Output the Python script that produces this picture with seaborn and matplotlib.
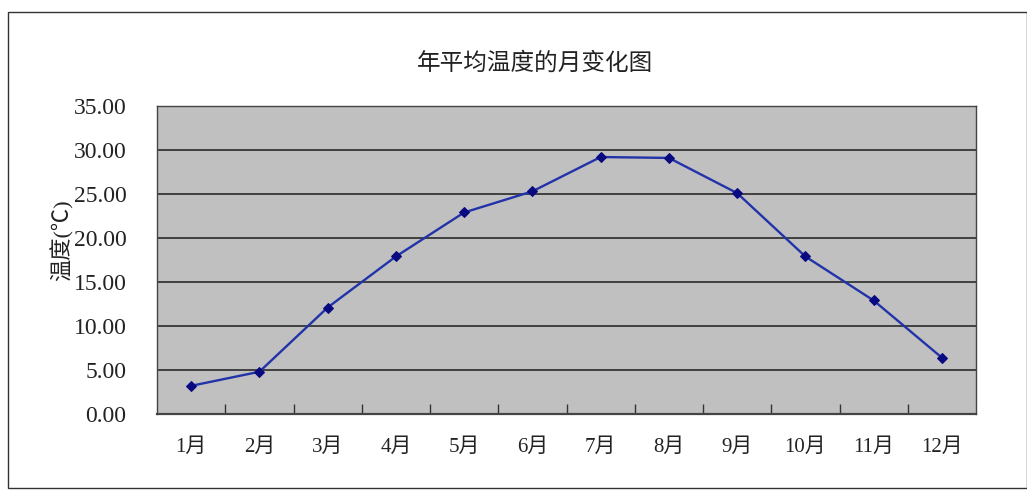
import matplotlib
matplotlib.use("Agg")
import matplotlib.pyplot as plt
import seaborn as sns
import pandas as pd
from matplotlib.patches import Rectangle

months = ["1月", "2月", "3月", "4月", "5月", "6月", "7月", "8月", "9月", "10月", "11月", "12月"]
temps = [3.2, 4.8, 12.1, 17.9, 22.9, 25.3, 29.2, 29.1, 25.1, 17.9, 12.9, 6.4]
y_ticks = [0, 5, 10, 15, 20, 25, 30, 35]
y_tick_labels = ["0.00", "5.00", "10.00", "15.00", "20.00", "25.00", "30.00", "35.00"]
title = "年平均温度的月变化图"
ylabel = "温度(℃)"

sns.set_style("white")
fam = ["Liberation Serif", "Noto Sans CJK SC", "DejaVu Sans"]
plt.rcParams["font.family"] = fam

df = pd.DataFrame({"month": months, "temp": temps, "idx": range(len(months))})

fig = plt.figure(figsize=(10.27, 4.91), dpi=100)
fig.patch.set_facecolor("white")
fig.patches.append(Rectangle((8/1027, 3/491), 1 - 8/1027, 1 - 15/491, transform=fig.transFigure,
                             fill=False, edgecolor="#333333", linewidth=1.0))
ax = fig.add_axes([157/1027, 77/491, 819/1027, 308/491])
ax.set_facecolor("#C0C0C0")

sns.lineplot(data=df, x="idx", y="temp", ax=ax, color="#2233AA", linewidth=1.7,
             marker="D", markersize=5.5, markerfacecolor="#0A0A80", markeredgecolor="#0A0A80", zorder=3)

ax.set_xlim(-0.5, len(months) - 0.5)
ax.set_ylim(0, 35)
ax.set_yticks(y_ticks)
ax.set_yticklabels(y_tick_labels, fontsize=17, color="#222222")
ax.set_xticks(list(range(len(months))))
ax.set_xticklabels(months, fontsize=15, color="#222222")
ax.set_xticks([i + 0.5 for i in range(len(months) - 1)], minor=True)
ax.tick_params(axis="x", which="major", bottom=True, length=0, pad=17)
ax.tick_params(axis="x", which="minor", bottom=True, direction="in", length=7, width=1.0, color="#333333")
ax.tick_params(axis="y", left=False, length=0, pad=22)
for y in y_ticks[1:-1]:
    ax.axhline(y, color="#2a2a2a", linewidth=1.2, zorder=1)
for s in ["left", "bottom", "top", "right"]:
    ax.spines[s].set_color("#444444")
    ax.spines[s].set_linewidth(1.0)
ax.spines["bottom"].set_linewidth(1.6)
ax.set_xlabel("")
ax.set_ylabel(ylabel, fontsize=16, color="#222222")
ax.yaxis.set_label_coords(-0.102, 0.565)
fig.text(535/1027, 1 - 64/491, title, ha="center", va="center", fontsize=17, color="#222222")

fig.savefig("out.png", dpi=100)
